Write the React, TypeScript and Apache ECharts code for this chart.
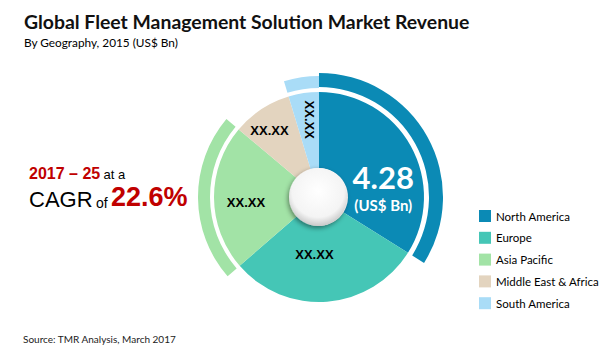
import React, { useEffect, useRef } from "react";
import * as echarts from "echarts";

const regions = ["North America", "Europe", "Asia Pacific", "Middle East & Africa", "South America"];
const revenue = [4.28, 3.75, 2.84, 1.16, 0.59];
const sliceLabels = ["4.28", "XX.XX", "XX.XX", "XX.XX", "XX.XX"];
const colors = ["#0b8ab5", "#45c6b6", "#a2e3a6", "#e3d4bf", "#a9dcf7"];
const ringShown = [true, false, true, false, true];
const labelOffsets = [[3, 25], [-10, -12], [-3, 5], [-11, -8], [-8, -1]];

const CX = 319;
const CY = 197;

export default function App() {
  const ref = useRef<HTMLDivElement>(null);
  useEffect(() => {
    if (!ref.current) return;
    const chart = echarts.init(ref.current, null, { renderer: "svg" });
    const mainData = regions.map((name, i) => ({
      name,
      value: revenue[i],
      itemStyle: { color: colors[i] },
      label:
        i === 0
          ? {
              formatter: "{a|" + sliceLabels[i] + "}\n{b|(US$ Bn)}",
              offset: labelOffsets[i],
              rich: {
                a: { fontFamily: "Lato", fontWeight: "bold", fontSize: 31, color: "#fff", lineHeight: 34 },
                b: { fontFamily: "Lato", fontWeight: "bold", fontSize: 15, color: "#fff", lineHeight: 22 },
              },
            }
          : {
              formatter: sliceLabels[i],
              offset: labelOffsets[i],
              rotate: i === 4 ? -90 : 0,
            },
    }));
    const ringData = (idx: number[]) =>
      regions.map((name, i) => ({
        name,
        value: revenue[i],
        itemStyle: { color: idx.includes(i) && ringShown[i] ? colors[i] : "rgba(0,0,0,0)" },
      }));
    chart.setOption({
      animation: false,
      title: {
        text: "Global Fleet Management Solution Market Revenue",
        subtext: "By Geography, 2015 (US$ Bn)",
        left: 19,
        top: 7,
        itemGap: 5,
        textStyle: { fontFamily: "Lato", fontWeight: "bold", fontSize: 19.4, color: "#111" },
        subtextStyle: { fontFamily: "Lato", fontSize: 11.8, color: "#000" },
      },
      legend: {
        orient: "vertical",
        left: 474,
        top: 205,
        itemWidth: 12,
        itemHeight: 12,
        itemGap: 9.8,
        icon: "rect",
        data: regions,
        selectedMode: false,
        textStyle: { fontFamily: "Lato", fontSize: 11.5, color: "#000" },
      },
      series: [
        {
          type: "pie",
          name: "Revenue",
          radius: [29, 105],
          center: [CX, CY],
          avoidLabelOverlap: false,
          z: 3,
          label: {
            show: true,
            position: "inside",
            rotate: 0,
            fontFamily: "Liberation Sans",
            fontWeight: "bold",
            fontSize: 13,
            color: "#000",
          },
          labelLine: { show: false },
          data: mainData,
        },
        {
          type: "pie",
          name: "ring1",
          radius: [110, 124],
          center: [CX, CY],
          silent: true,
          label: { show: false },
          labelLine: { show: false },
          data: ringData([0]),
        },
        {
          type: "pie",
          name: "ring2",
          radius: [109, 121],
          center: [CX, CY],
          silent: true,
          label: { show: false },
          labelLine: { show: false },
          data: ringData([2, 4]),
        },
      ],
      graphic: [
        {
          type: "circle",
          shape: { cx: CX - 1, cy: CY, r: 29 },
          z: 10,
          style: {
            fill: {
              type: "radial",
              x: 0.5,
              y: 0.4,
              r: 0.6,
              colorStops: [
                { offset: 0, color: "#ffffff" },
                { offset: 0.75, color: "#f4f4f4" },
                { offset: 1, color: "#c9c9c9" },
              ],
            },
            shadowBlur: 5,
            shadowColor: "rgba(0,0,0,0.45)",
            shadowOffsetX: -1,
            shadowOffsetY: 2,
          },
        },
        {
          type: "text",
          left: 29,
          top: 165,
          style: {
            text: "{r|2017 – 25} {s|at a}",
            rich: {
              r: { fontFamily: "Liberation Sans", fontWeight: "bold", fontSize: 16, fill: "#c00000", verticalAlign: "bottom", lineHeight: 18 },
              s: { fontFamily: "Liberation Sans", fontSize: 13, fill: "#000", verticalAlign: "bottom", lineHeight: 18 },
            },
          },
        },
        {
          type: "text",
          left: 29,
          top: 183,
          style: {
            text: "{c|CAGR} {s|of} {p|22.6%}",
            rich: {
              c: { fontFamily: "Liberation Sans", fontSize: 22, fill: "#000", verticalAlign: "bottom", lineHeight: 24 },
              s: { fontFamily: "Liberation Sans", fontSize: 14, fill: "#000", verticalAlign: "bottom", lineHeight: 24 },
              p: { fontFamily: "Liberation Sans", fontWeight: "bold", fontSize: 27, fill: "#c00000", verticalAlign: "bottom", lineHeight: 24 },
            },
          },
        },
        {
          type: "text",
          left: 23,
          top: 334,
          style: { text: "Source: TMR Analysis, March 2017", fontFamily: "Lato", fontSize: 10, fill: "#222" },
        },
      ],
    });
    return () => chart.dispose();
  }, []);
  return (
    <div
      ref={ref}
      style={{ position: "absolute", left: 0, top: 0, width: 608, height: 355, background: "#fff" }}
    />
  );
}
